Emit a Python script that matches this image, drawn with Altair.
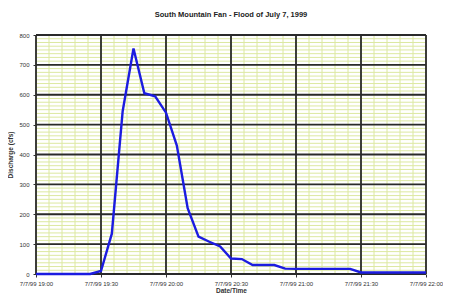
import altair as alt
import pandas as pd

# Data (5-minute intervals)
times = ["19:00", "19:05", "19:10", "19:15", "19:20", "19:25", "19:30", "19:35",
         "19:40", "19:45", "19:50", "19:55", "20:00", "20:05", "20:10", "20:15",
         "20:20", "20:25", "20:30", "20:35", "20:40", "20:45", "20:50", "20:55",
         "21:00", "21:05", "21:10", "21:15", "21:20", "21:25", "21:30", "21:35",
         "21:40", "21:45", "21:50", "21:55", "22:00"]
discharge = [0, 0, 0, 0, 0, 0, 10, 135,
             545, 755, 605, 595, 540, 430, 220, 125,
             108, 92, 52, 50, 30, 30, 30, 18,
             17, 17, 17, 17, 17, 17, 5, 5,
             5, 5, 5, 5, 5]

major_times = ["19:00", "19:30", "20:00", "20:30", "21:00", "21:30", "22:00"]
major_values = [0, 100, 200, 300, 400, 500, 600, 700, 800]
minor_times = [f"{19 + m // 60}:{m % 60:02d}" for m in range(0, 181, 6)]
minor_values = [v * 12.5 for v in range(0, 65)]


def ts(hm):
    return "1999-07-07T" + (hm if len(hm) == 5 else "0" + hm) + ":00Z"


df = pd.DataFrame({"t": [ts(t) for t in times], "q": discharge})
df_major_x = pd.DataFrame({"t": [ts(t) for t in major_times]})
df_minor_x = pd.DataFrame({"t": [ts(t) for t in minor_times]})
df_major_y = pd.DataFrame({"q": major_values})
df_minor_y = pd.DataFrame({"q": minor_values})

font = "Liberation Sans"
x_domain = [alt.DateTime(year=1999, month=7, date=7, hours=19, utc=True),
            alt.DateTime(year=1999, month=7, date=7, hours=22, utc=True)]
x_values = [alt.DateTime(year=1999, month=7, date=7, hours=19 + (i * 30) // 60,
                         minutes=(i * 30) % 60, utc=True) for i in range(7)]

x_scale = alt.Scale(type="utc", domain=x_domain)
y_scale = alt.Scale(domain=[0, 800])

x_axis = alt.Axis(values=x_values, title="Date/Time",
                  labelExpr="utcFormat(datum.value, '%-m/%-d/%y %H:%M')",
                  grid=False, domain=False, tickSize=3, tickColor="#333",
                  labelFontSize=6, labelFont=font, labelColor="#333",
                  labelPadding=3, labelOverlap=False, labelBound=False,
                  labelFlush=False,
                  titleFontSize=6.5, titleFont=font, titleFontWeight="bold",
                  titleColor="#333", titlePadding=1)
y_axis = alt.Axis(values=major_values, title="Discharge (cfs)",
                  grid=False, domain=False, tickSize=3, tickColor="#333",
                  labelFontSize=6, labelFont=font, labelColor="#333",
                  labelPadding=4, labelFlush=False,
                  titleFontSize=6.5, titleFont=font, titleFontWeight="bold",
                  titleColor="#333", titlePadding=5)

X = alt.X("t:T", scale=x_scale, axis=x_axis)
Y = alt.Y("q:Q", scale=y_scale, axis=y_axis)

minor_x = alt.Chart(df_minor_x).mark_rule(color="#dce8a0", strokeWidth=1).encode(x=X)
minor_y = alt.Chart(df_minor_y).mark_rule(color="#dce8a0", strokeWidth=1).encode(y=Y)
major_x = alt.Chart(df_major_x).mark_rule(color="#2a2a2a", strokeWidth=1.8).encode(x=X)
major_y = alt.Chart(df_major_y).mark_rule(color="#2a2a2a", strokeWidth=1.8).encode(y=Y)
line = alt.Chart(df).mark_line(color="#1c1ce0", strokeWidth=2.4).encode(x=X, y=Y)

chart = alt.layer(minor_x, minor_y, major_x, major_y, line).properties(
    width=390, height=239,
    autosize=alt.AutoSizeParams(type="none"),
    padding={"left": 28, "top": 27, "right": 17, "bottom": 20},
    title=alt.TitleParams("South Mountain Fan - Flood of July 7, 1999",
                          font=font, fontSize=7.5, fontWeight="bold",
                          color="#222", offset=14, anchor="middle"),
).configure_view(stroke="#333", strokeWidth=1.5).configure(background="white")

chart.save("out.html", embed_options={"renderer": "svg", "actions": False})
